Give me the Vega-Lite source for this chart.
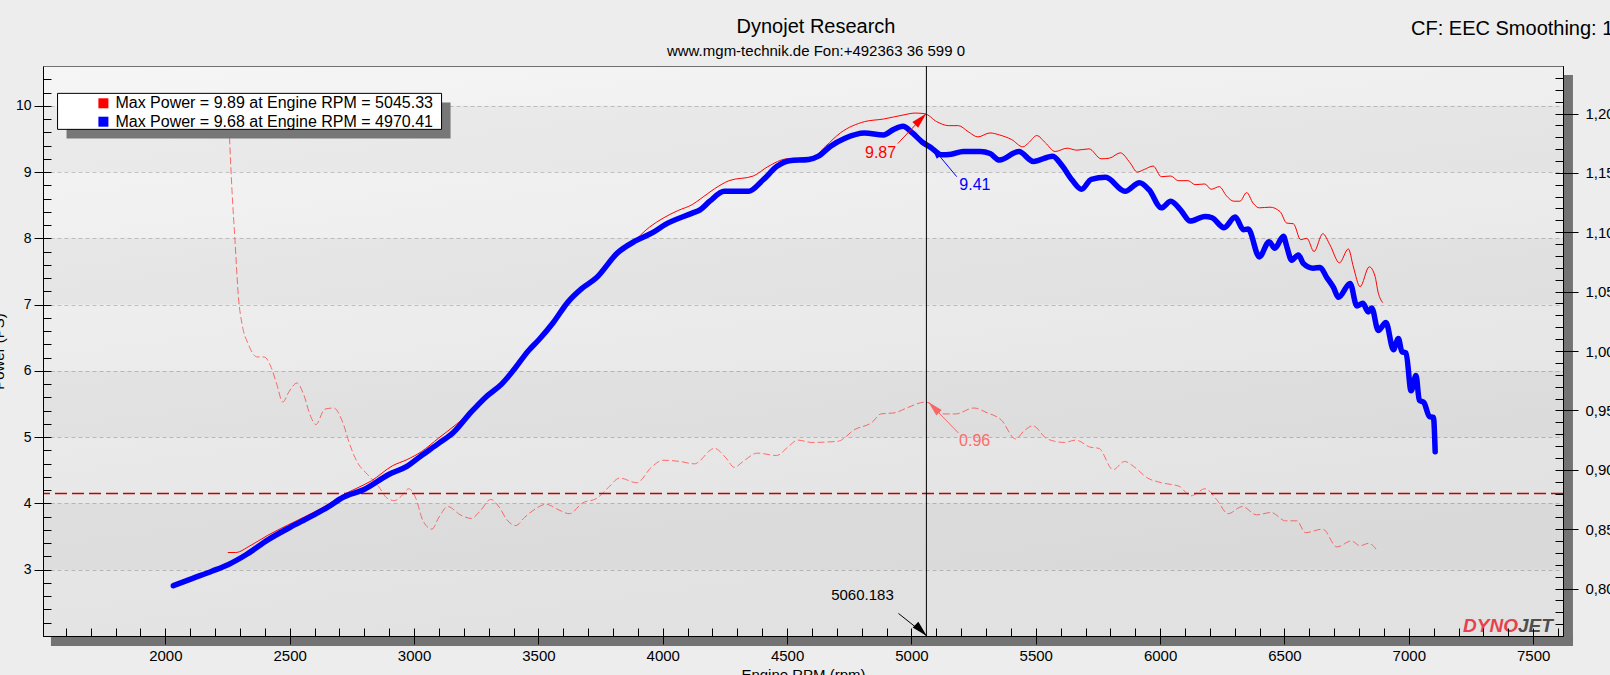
{
  "$schema": "https://vega.github.io/schema/vega-lite/v6.json",
  "width": 1520,
  "height": 570,
  "autosize": {"type": "none"},
  "padding": {"left": 43, "top": 66, "right": 47, "bottom": 39},
  "background": "#ededed",
  "title": {
    "text": "Dynojet Research",
    "subtitle": "www.mgm-technik.de Fon:+492363 36 599 0",
    "anchor": "middle",
    "frame": "group",
    "dx": 13,
    "offset": -40,
    "font": "Liberation Sans",
    "fontSize": 20,
    "fontWeight": "normal",
    "color": "#000000",
    "subtitleFont": "Liberation Sans",
    "subtitleFontSize": 15,
    "subtitleColor": "#000000",
    "subtitlePadding": 7
  },
  "datasets": {
    "run1": [
      {"rpm":2251,"power":3.26},{"rpm":2283,"power":3.26},{"rpm":2340,"power":3.36},{"rpm":2412,"power":3.52},{"rpm":2512,"power":3.71},{"rpm":2598,"power":3.87},{"rpm":2656,"power":3.99},{"rpm":2720,"power":4.14},{"rpm":2770,"power":4.23},{"rpm":2828,"power":4.34},{"rpm":2914,"power":4.57},{"rpm":2971,"power":4.66},{"rpm":3029,"power":4.78},{"rpm":3100,"power":4.99},{"rpm":3172,"power":5.2},{"rpm":3215,"power":5.34},{"rpm":3287,"power":5.62},{"rpm":3352,"power":5.82},{"rpm":3402,"power":6.04},{"rpm":3459,"power":6.32},{"rpm":3502,"power":6.49},{"rpm":3560,"power":6.75},{"rpm":3617,"power":7.05},{"rpm":3674,"power":7.26},{"rpm":3732,"power":7.42},{"rpm":3818,"power":7.8},{"rpm":3875,"power":7.93},{"rpm":3947,"power":8.17},{"rpm":4004,"power":8.31},{"rpm":4062,"power":8.42},{"rpm":4119,"power":8.51},{"rpm":4150,"power":8.59},{"rpm":4209,"power":8.75},{"rpm":4267,"power":8.87},{"rpm":4364,"power":8.94},{"rpm":4422,"power":9.08},{"rpm":4500,"power":9.2},{"rpm":4597,"power":9.21},{"rpm":4655,"power":9.39},{"rpm":4714,"power":9.59},{"rpm":4811,"power":9.76},{"rpm":4888,"power":9.8},{"rpm":4966,"power":9.86},{"rpm":5015,"power":9.89},{"rpm":5054,"power":9.88},{"rpm":5102,"power":9.76},{"rpm":5150,"power":9.7},{"rpm":5189,"power":9.7},{"rpm":5228,"power":9.61},{"rpm":5267,"power":9.53},{"rpm":5316,"power":9.59},{"rpm":5354,"power":9.56},{"rpm":5403,"power":9.49},{"rpm":5448,"power":9.38},{"rpm":5471,"power":9.44},{"rpm":5504,"power":9.55},{"rpm":5539,"power":9.44},{"rpm":5578,"power":9.31},{"rpm":5626,"power":9.36},{"rpm":5665,"power":9.33},{"rpm":5714,"power":9.35},{"rpm":5763,"power":9.2},{"rpm":5797,"power":9.21},{"rpm":5840,"power":9.29},{"rpm":5879,"power":9.14},{"rpm":5908,"power":9.0},{"rpm":5937,"power":9.04},{"rpm":5972,"power":9.09},{"rpm":6005,"power":8.93},{"rpm":6043,"power":8.94},{"rpm":6073,"power":8.87},{"rpm":6112,"power":8.87},{"rpm":6141,"power":8.81},{"rpm":6180,"power":8.82},{"rpm":6205,"power":8.74},{"rpm":6238,"power":8.78},{"rpm":6267,"power":8.64},{"rpm":6296,"power":8.56},{"rpm":6321,"power":8.56},{"rpm":6348,"power":8.69},{"rpm":6374,"power":8.53},{"rpm":6399,"power":8.46},{"rpm":6442,"power":8.47},{"rpm":6483,"power":8.4},{"rpm":6509,"power":8.23},{"rpm":6536,"power":8.22},{"rpm":6565,"power":7.98},{"rpm":6590,"power":8.0},{"rpm":6619,"power":7.8},{"rpm":6654,"power":8.07},{"rpm":6683,"power":7.9},{"rpm":6721,"power":7.63},{"rpm":6757,"power":7.84},{"rpm":6777,"power":7.57},{"rpm":6804,"power":7.27},{"rpm":6841,"power":7.57},{"rpm":6864,"power":7.43},{"rpm":6877,"power":7.18},{"rpm":6895,"power":7.03}
    ],
    "run2": [
      {"rpm":2032,"power":2.76},{"rpm":2110,"power":2.87},{"rpm":2189,"power":2.98},{"rpm":2254,"power":3.08},{"rpm":2326,"power":3.23},{"rpm":2412,"power":3.45},{"rpm":2502,"power":3.64},{"rpm":2584,"power":3.8},{"rpm":2656,"power":3.95},{"rpm":2713,"power":4.09},{"rpm":2799,"power":4.21},{"rpm":2900,"power":4.44},{"rpm":2971,"power":4.56},{"rpm":3029,"power":4.72},{"rpm":3100,"power":4.91},{"rpm":3158,"power":5.07},{"rpm":3230,"power":5.38},{"rpm":3287,"power":5.6},{"rpm":3352,"power":5.8},{"rpm":3402,"power":6.02},{"rpm":3459,"power":6.3},{"rpm":3502,"power":6.47},{"rpm":3560,"power":6.73},{"rpm":3617,"power":7.03},{"rpm":3674,"power":7.24},{"rpm":3732,"power":7.4},{"rpm":3818,"power":7.78},{"rpm":3890,"power":7.96},{"rpm":3961,"power":8.09},{"rpm":4011,"power":8.21},{"rpm":4119,"power":8.38},{"rpm":4150,"power":8.43},{"rpm":4189,"power":8.56},{"rpm":4248,"power":8.71},{"rpm":4345,"power":8.71},{"rpm":4403,"power":8.88},{"rpm":4461,"power":9.09},{"rpm":4510,"power":9.17},{"rpm":4587,"power":9.19},{"rpm":4626,"power":9.24},{"rpm":4675,"power":9.39},{"rpm":4733,"power":9.51},{"rpm":4811,"power":9.59},{"rpm":4888,"power":9.56},{"rpm":4927,"power":9.64},{"rpm":4966,"power":9.69},{"rpm":5004,"power":9.59},{"rpm":5044,"power":9.45},{"rpm":5082,"power":9.36},{"rpm":5121,"power":9.26},{"rpm":5160,"power":9.27},{"rpm":5209,"power":9.31},{"rpm":5277,"power":9.31},{"rpm":5316,"power":9.28},{"rpm":5354,"power":9.18},{"rpm":5432,"power":9.31},{"rpm":5490,"power":9.16},{"rpm":5568,"power":9.24},{"rpm":5607,"power":9.09},{"rpm":5646,"power":8.88},{"rpm":5684,"power":8.74},{"rpm":5723,"power":8.89},{"rpm":5781,"power":8.92},{"rpm":5859,"power":8.71},{"rpm":5917,"power":8.84},{"rpm":5956,"power":8.73},{"rpm":6005,"power":8.46},{"rpm":6043,"power":8.56},{"rpm":6082,"power":8.43},{"rpm":6121,"power":8.26},{"rpm":6180,"power":8.33},{"rpm":6209,"power":8.31},{"rpm":6257,"power":8.16},{"rpm":6302,"power":8.32},{"rpm":6335,"power":8.13},{"rpm":6354,"power":8.14},{"rpm":6399,"power":7.72},{"rpm":6438,"power":7.95},{"rpm":6461,"power":7.85},{"rpm":6496,"power":8.03},{"rpm":6509,"power":7.88},{"rpm":6529,"power":7.67},{"rpm":6556,"power":7.75},{"rpm":6576,"power":7.62},{"rpm":6616,"power":7.55},{"rpm":6643,"power":7.56},{"rpm":6670,"power":7.41},{"rpm":6697,"power":7.26},{"rpm":6717,"power":7.11},{"rpm":6764,"power":7.32},{"rpm":6791,"power":6.98},{"rpm":6815,"power":7.02},{"rpm":6837,"power":6.89},{"rpm":6851,"power":6.95},{"rpm":6877,"power":6.61},{"rpm":6908,"power":6.73},{"rpm":6938,"power":6.32},{"rpm":6958,"power":6.49},{"rpm":6972,"power":6.29},{"rpm":6989,"power":6.27},{"rpm":7009,"power":5.7},{"rpm":7029,"power":5.93},{"rpm":7042,"power":5.56},{"rpm":7061,"power":5.52},{"rpm":7083,"power":5.31},{"rpm":7099,"power":5.3},{"rpm":7106,"power":4.78}
    ],
    "afr": [
      {"rpm":2258,"lambda":1.18},{"rpm":2268,"lambda":1.135},{"rpm":2280,"lambda":1.093},{"rpm":2294,"lambda":1.045},{"rpm":2308,"lambda":1.023},{"rpm":2333,"lambda":1.006},{"rpm":2369,"lambda":0.995},{"rpm":2397,"lambda":0.995},{"rpm":2426,"lambda":0.986},{"rpm":2448,"lambda":0.972},{"rpm":2472,"lambda":0.957},{"rpm":2498,"lambda":0.966},{"rpm":2529,"lambda":0.973},{"rpm":2555,"lambda":0.964},{"rpm":2584,"lambda":0.945},{"rpm":2605,"lambda":0.938},{"rpm":2641,"lambda":0.951},{"rpm":2677,"lambda":0.952},{"rpm":2713,"lambda":0.94},{"rpm":2742,"lambda":0.921},{"rpm":2770,"lambda":0.907},{"rpm":2813,"lambda":0.896},{"rpm":2857,"lambda":0.886},{"rpm":2892,"lambda":0.876},{"rpm":2921,"lambda":0.874},{"rpm":2950,"lambda":0.878},{"rpm":2979,"lambda":0.884},{"rpm":3007,"lambda":0.876},{"rpm":3036,"lambda":0.857},{"rpm":3072,"lambda":0.85},{"rpm":3100,"lambda":0.86},{"rpm":3136,"lambda":0.869},{"rpm":3186,"lambda":0.862},{"rpm":3230,"lambda":0.859},{"rpm":3265,"lambda":0.865},{"rpm":3308,"lambda":0.875},{"rpm":3344,"lambda":0.868},{"rpm":3373,"lambda":0.858},{"rpm":3409,"lambda":0.853},{"rpm":3445,"lambda":0.86},{"rpm":3488,"lambda":0.867},{"rpm":3531,"lambda":0.871},{"rpm":3574,"lambda":0.867},{"rpm":3625,"lambda":0.863},{"rpm":3677,"lambda":0.872},{"rpm":3735,"lambda":0.876},{"rpm":3781,"lambda":0.885},{"rpm":3827,"lambda":0.893},{"rpm":3896,"lambda":0.889},{"rpm":3954,"lambda":0.902},{"rpm":4000,"lambda":0.908},{"rpm":4069,"lambda":0.907},{"rpm":4127,"lambda":0.905},{"rpm":4208,"lambda":0.918},{"rpm":4254,"lambda":0.91},{"rpm":4288,"lambda":0.902},{"rpm":4323,"lambda":0.907},{"rpm":4381,"lambda":0.914},{"rpm":4457,"lambda":0.912},{"rpm":4508,"lambda":0.92},{"rpm":4542,"lambda":0.925},{"rpm":4600,"lambda":0.923},{"rpm":4704,"lambda":0.924},{"rpm":4773,"lambda":0.934},{"rpm":4842,"lambda":0.94},{"rpm":4877,"lambda":0.947},{"rpm":4934,"lambda":0.948},{"rpm":4981,"lambda":0.952},{"rpm":5057,"lambda":0.957},{"rpm":5131,"lambda":0.947},{"rpm":5177,"lambda":0.947},{"rpm":5251,"lambda":0.952},{"rpm":5304,"lambda":0.948},{"rpm":5361,"lambda":0.942},{"rpm":5419,"lambda":0.926},{"rpm":5454,"lambda":0.933},{"rpm":5488,"lambda":0.937},{"rpm":5546,"lambda":0.926},{"rpm":5615,"lambda":0.923},{"rpm":5661,"lambda":0.925},{"rpm":5719,"lambda":0.919},{"rpm":5754,"lambda":0.918},{"rpm":5811,"lambda":0.9},{"rpm":5857,"lambda":0.907},{"rpm":5892,"lambda":0.903},{"rpm":5950,"lambda":0.893},{"rpm":6007,"lambda":0.889},{"rpm":6077,"lambda":0.886},{"rpm":6123,"lambda":0.878},{"rpm":6181,"lambda":0.884},{"rpm":6227,"lambda":0.875},{"rpm":6273,"lambda":0.863},{"rpm":6331,"lambda":0.869},{"rpm":6388,"lambda":0.862},{"rpm":6446,"lambda":0.864},{"rpm":6504,"lambda":0.857},{"rpm":6550,"lambda":0.857},{"rpm":6584,"lambda":0.847},{"rpm":6654,"lambda":0.85},{"rpm":6711,"lambda":0.835},{"rpm":6769,"lambda":0.84},{"rpm":6804,"lambda":0.836},{"rpm":6838,"lambda":0.838},{"rpm":6873,"lambda":0.832}
    ],
    "bands": [
      {"lo":9,"hi":10},{"lo":7,"hi":8},{"lo":5,"hi":6},{"lo":3,"hi":4}
    ],
    "runs": [
      {"run":"Max Power = 9.89 at Engine RPM = 5045.33"},
      {"run":"Max Power = 9.68 at Engine RPM = 4970.41"}
    ],
    "one": [{}]
  },
  "resolve": {"scale": {"y": "independent"}, "axis": {"x": "independent", "y": "independent"}},
  "layer": [
    {
      "resolve": {"axis": {"x": "independent", "y": "independent"}},
      "layer": [
        {
          "data": {"name": "one"},
          "mark": {"type": "rect", "opacity": 0.45, "color": {"gradient": "linear", "x1": 0, "y1": 0, "x2": 0.35, "y2": 1, "stops": [{"offset": 0, "color": "#ffffff"}, {"offset": 1, "color": "#d2d2d2"}]}},
          "encoding": {}
        },
        {
          "data": {"name": "afr"},
          "mark": {"type": "line", "color": "#ff6b6b", "strokeWidth": 1, "strokeDash": [7, 3], "interpolate": "monotone"},
          "encoding": {
            "x": {"field": "rpm", "type": "quantitative", "scale": {"domain": [1508, 7620], "nice": false, "zero": false},
              "axis": {
                "orient": "bottom",
                "values": [1600,1700,1800,1900,2000,2100,2200,2300,2400,2500,2600,2700,2800,2900,3000,3100,3200,3300,3400,3500,3600,3700,3800,3900,4000,4100,4200,4300,4400,4500,4600,4700,4800,4900,5000,5100,5200,5300,5400,5500,5600,5700,5800,5900,6000,6100,6200,6300,6400,6500,6600,6700,6800,6900,7000,7100,7200,7300,7400,7500,7600],
                "format": "d",
                "labelExpr": "datum.value % 500 === 0 ? datum.label : ''",
                "grid": false,
                "tickSize": -8,
                "labelFontSize": 15,
                "labelPadding": 20,
                "labelFlush": false,
                "labelOverlap": false,
                "title": "Engine RPM (rpm)",
                "titleFontSize": 15,
                "titleY": 31,
                "titleBaseline": "top",
                "zindex": 1
              }
            },
            "y": {"field": "lambda", "type": "quantitative", "scale": {"domain": [0.76, 1.24], "nice": false, "zero": false},
              "axis": {
                "orient": "right",
                "values": [0.77,0.78,0.79,0.8,0.81,0.82,0.83,0.84,0.85,0.86,0.87,0.88,0.89,0.9,0.91,0.92,0.93,0.94,0.95,0.96,0.97,0.98,0.99,1,1.01,1.02,1.03,1.04,1.05,1.06,1.07,1.08,1.09,1.1,1.11,1.12,1.13,1.14,1.15,1.16,1.17,1.18,1.19,1.2,1.21,1.22,1.23],
                "labelExpr": "abs(datum.value*20 - round(datum.value*20)) < 0.001 ? replace(format(datum.value, '.2f'), '.', ',') : ''",
                "grid": false,
                "tickSize": -8,
                "labelFontSize": 15,
                "labelPadding": 30,
                "labelOverlap": false,
                "labelFlush": false,
                "title": null,
                "zindex": 1
              }
            }
          }
        },
        {
          "data": {"name": "one"},
          "mark": {"type": "rule", "color": "#c40000", "strokeWidth": 1.3, "strokeDash": [12, 5]},
          "encoding": {
            "y": {"datum": 0.88, "type": "quantitative", "scale": {"domain": [0.76, 1.24], "nice": false, "zero": false},
              "axis": {
                "orient": "right",
                "values": [0.8,0.85,0.9,0.95,1,1.05,1.1,1.15,1.2],
                "tickSize": 15,
                "labels": false,
                "domain": false,
                "grid": false,
                "title": null,
                "zindex": 1
              }
            }
          }
        },
        {
          "data": {"name": "one"},
          "mark": {"type": "rule", "color": "#ff6b6b", "strokeWidth": 1},
          "encoding": {
            "x": {"datum": 5189, "type": "quantitative", "scale": {"domain": [1508, 7620], "nice": false, "zero": false},
              "axis": {
                "orient": "bottom",
                "values": [2000,2500,3000,3500,4000,4500,5000,5500,6000,6500,7000,7500],
                "tickSize": 8,
                "labels": false,
                "domain": false,
                "grid": false,
                "title": null,
                "zindex": 1
              }
            },
            "x2": {"datum": 5068},
            "y": {"datum": 0.931, "type": "quantitative", "scale": {"domain": [0.76, 1.24], "nice": false, "zero": false}, "axis": null},
            "y2": {"datum": 0.957}
          }
        },
        {
          "data": {"name": "one"},
          "mark": {"type": "point", "shape": "M0,0L-0.5,2L0.5,2Z", "filled": true, "size": 230, "angle": 315, "color": "#ff6b6b", "opacity": 1, "strokeWidth": 0},
          "encoding": {
            "x": {"datum": 5068, "type": "quantitative", "scale": {"domain": [1508, 7620], "nice": false, "zero": false}, "axis": null},
            "y": {"datum": 0.957, "type": "quantitative", "scale": {"domain": [0.76, 1.24], "nice": false, "zero": false}, "axis": null}
          }
        },
        {
          "data": {"name": "one"},
          "mark": {"type": "text", "text": "0.96", "color": "#ff6b6b", "font": "Liberation Sans", "fontSize": 16, "align": "center", "baseline": "middle"},
          "encoding": {
            "x": {"datum": 5254, "type": "quantitative", "scale": {"domain": [1508, 7620], "nice": false, "zero": false}, "axis": null},
            "y": {"datum": 0.924, "type": "quantitative", "scale": {"domain": [0.76, 1.24], "nice": false, "zero": false}, "axis": null}
          }
        }
      ]
    },
    {
      "resolve": {"axis": {"y": "independent"}},
      "layer": [
        {
          "data": {"name": "runs"},
          "mark": {"type": "square", "opacity": 0, "size": 100},
          "encoding": {
            "color": {"field": "run", "type": "nominal",
              "scale": {"domain": ["Max Power = 9.89 at Engine RPM = 5045.33", "Max Power = 9.68 at Engine RPM = 4970.41"], "range": ["#ff0000", "#0000ff"]},
              "legend": {
                "title": null,
                "orient": "none",
                "legendX": 52.4,
                "legendY": 29.3,
                "symbolType": "square",
                "symbolSize": 100,
                "symbolStrokeWidth": 0,
                "symbolOpacity": 1,
                "labelFont": "Liberation Sans",
                "labelFontSize": 16,
                "labelColor": "#000000",
                "labelOffset": 4,
                "labelLimit": 500,
                "rowPadding": 2.4,
                "padding": 0,
                "symbolOffset": 0
              }
            }
          }
        },
        {
          "data": {"name": "bands"},
          "mark": {"type": "rect", "color": "#000000", "opacity": 0.035},
          "encoding": {
            "y": {"field": "lo", "type": "quantitative", "scale": {"domain": [2, 10.6], "nice": false, "zero": false},
              "axis": {
                "orient": "left",
                "values": [3,4,5,6,7,8,9,10],
                "grid": true,
                "ticks": false,
                "labels": false,
                "domain": false,
                "title": null,
                "zindex": 0
              }
            },
            "y2": {"field": "hi"}
          }
        },
        {
          "data": {"name": "run1"},
          "mark": {"type": "line", "color": "#ff0000", "strokeWidth": 1, "interpolate": "monotone"},
          "encoding": {
            "x": {"field": "rpm", "type": "quantitative", "scale": {"domain": [1508, 7620], "nice": false, "zero": false},
              "axis": {
                "orient": "bottom",
                "values": [2000,2500,3000,3500,4000,4500,5000,5500,6000,6500,7000,7500],
                "grid": true,
                "ticks": false,
                "labels": false,
                "domain": false,
                "title": null,
                "zindex": 0
              }
            },
            "y": {"field": "power", "type": "quantitative", "scale": {"domain": [2, 10.6], "nice": false, "zero": false},
              "axis": {
                "orient": "left",
                "values": [2.2,2.4,2.6,2.8,3,3.2,3.4,3.6,3.8,4,4.2,4.4,4.6,4.8,5,5.2,5.4,5.6,5.8,6,6.2,6.4,6.6,6.8,7,7.2,7.4,7.6,7.8,8,8.2,8.4,8.6,8.8,9,9.2,9.4,9.6,9.8,10,10.2,10.4],
                "format": ".0f",
                "labelExpr": "abs(datum.value - round(datum.value)) < 0.001 ? datum.label : ''",
                "grid": false,
                "tickSize": -8,
                "labelFontSize": 14,
                "labelPadding": 20,
                "labelOverlap": false,
                "labelFlush": false,
                "title": "Power (PS)",
                "titleFontSize": 15,
                "titleX": -40,
                "titleBaseline": "alphabetic",
                "zindex": 1
              }
            }
          }
        },
        {
          "data": {"name": "run2"},
          "mark": {"type": "line", "color": "#0000ff", "strokeWidth": 5.5, "interpolate": "monotone", "strokeCap": "round", "strokeJoin": "round"},
          "encoding": {
            "x": {"field": "rpm", "type": "quantitative", "scale": {"domain": [1508, 7620], "nice": false, "zero": false}, "axis": null},
            "y": {"field": "power", "type": "quantitative", "scale": {"domain": [2, 10.6], "nice": false, "zero": false},
              "axis": {
                "orient": "left",
                "values": [3,4,5,6,7,8,9,10],
                "tickSize": 9,
                "labels": false,
                "domain": false,
                "grid": false,
                "title": null,
                "zindex": 1
              }
            }
          }
        },
        {
          "data": {"name": "one"},
          "mark": {"type": "rect", "color": "#737373"},
          "encoding": {
            "x": {"datum": 7620, "type": "quantitative", "scale": {"domain": [1508, 7620], "nice": false, "zero": false}, "axis": null},
            "x2": {"datum": 7660},
            "y": {"datum": 10.464, "type": "quantitative", "scale": {"domain": [2, 10.6], "nice": false, "zero": false}, "axis": null},
            "y2": {"datum": 1.849}
          }
        },
        {
          "data": {"name": "one"},
          "mark": {"type": "rect", "color": "#737373"},
          "encoding": {
            "x": {"datum": 1540, "type": "quantitative", "scale": {"domain": [1508, 7620], "nice": false, "zero": false}, "axis": null},
            "x2": {"datum": 7660},
            "y": {"datum": 2.0, "type": "quantitative", "scale": {"domain": [2, 10.6], "nice": false, "zero": false}, "axis": null},
            "y2": {"datum": 1.849}
          }
        },
        {
          "data": {"name": "one"},
          "mark": {"type": "rect", "color": "#777777"},
          "encoding": {
            "x": {"datum": 1602.7, "type": "quantitative", "scale": {"domain": [1508, 7620], "nice": false, "zero": false}, "axis": null},
            "x2": {"datum": 3146.8},
            "y": {"datum": 9.508, "type": "quantitative", "scale": {"domain": [2, 10.6], "nice": false, "zero": false}, "axis": null},
            "y2": {"datum": 10.051}
          }
        },
        {
          "data": {"name": "one"},
          "mark": {"type": "rect", "fill": "#ffffff", "stroke": "#000000", "strokeWidth": 1},
          "encoding": {
            "x": {"datum": 1566.5, "type": "quantitative", "scale": {"domain": [1508, 7620], "nice": false, "zero": false}, "axis": null},
            "x2": {"datum": 3110.6},
            "y": {"datum": 9.644, "type": "quantitative", "scale": {"domain": [2, 10.6], "nice": false, "zero": false}, "axis": null},
            "y2": {"datum": 10.187}
          }
        },
        {
          "data": {"name": "one"},
          "mark": {"type": "rule", "color": "#000000", "strokeWidth": 1},
          "encoding": {
            "x": {"datum": 5060.183, "type": "quantitative", "scale": {"domain": [1508, 7620], "nice": false, "zero": false}, "axis": null}
          }
        },
        {
          "data": {"name": "one"},
          "mark": {"type": "rule", "color": "#ff0000", "strokeWidth": 1},
          "encoding": {
            "x": {"datum": 4945, "type": "quantitative", "scale": {"domain": [1508, 7620], "nice": false, "zero": false}, "axis": null},
            "x2": {"datum": 5060},
            "y": {"datum": 9.43, "type": "quantitative", "scale": {"domain": [2, 10.6], "nice": false, "zero": false}, "axis": null},
            "y2": {"datum": 9.885}
          }
        },
        {
          "data": {"name": "one"},
          "mark": {"type": "point", "shape": "M0,0L-0.5,2L0.5,2Z", "filled": true, "size": 256, "angle": 44, "color": "#ff0000", "opacity": 1, "strokeWidth": 0},
          "encoding": {
            "x": {"datum": 5060, "type": "quantitative", "scale": {"domain": [1508, 7620], "nice": false, "zero": false}, "axis": null},
            "y": {"datum": 9.885, "type": "quantitative", "scale": {"domain": [2, 10.6], "nice": false, "zero": false}, "axis": null}
          }
        },
        {
          "data": {"name": "one"},
          "mark": {"type": "text", "text": "9.87", "color": "#ff0000", "font": "Liberation Sans", "fontSize": 16, "align": "center", "baseline": "middle"},
          "encoding": {
            "x": {"datum": 4876, "type": "quantitative", "scale": {"domain": [1508, 7620], "nice": false, "zero": false}, "axis": null},
            "y": {"datum": 9.28, "type": "quantitative", "scale": {"domain": [2, 10.6], "nice": false, "zero": false}, "axis": null}
          }
        },
        {
          "data": {"name": "one"},
          "mark": {"type": "rule", "color": "#0000ff", "strokeWidth": 1},
          "encoding": {
            "x": {"datum": 5182, "type": "quantitative", "scale": {"domain": [1508, 7620], "nice": false, "zero": false}, "axis": null},
            "x2": {"datum": 5078},
            "y": {"datum": 8.93, "type": "quantitative", "scale": {"domain": [2, 10.6], "nice": false, "zero": false}, "axis": null},
            "y2": {"datum": 9.4}
          }
        },
        {
          "data": {"name": "one"},
          "mark": {"type": "point", "shape": "M0,0L-0.5,2L0.5,2Z", "filled": true, "size": 200, "angle": 322, "color": "#0000ff", "opacity": 1, "strokeWidth": 0},
          "encoding": {
            "x": {"datum": 5078, "type": "quantitative", "scale": {"domain": [1508, 7620], "nice": false, "zero": false}, "axis": null},
            "y": {"datum": 9.4, "type": "quantitative", "scale": {"domain": [2, 10.6], "nice": false, "zero": false}, "axis": null}
          }
        },
        {
          "data": {"name": "one"},
          "mark": {"type": "text", "text": "9.41", "color": "#0000ff", "font": "Liberation Sans", "fontSize": 16, "align": "center", "baseline": "middle"},
          "encoding": {
            "x": {"datum": 5255, "type": "quantitative", "scale": {"domain": [1508, 7620], "nice": false, "zero": false}, "axis": null},
            "y": {"datum": 8.81, "type": "quantitative", "scale": {"domain": [2, 10.6], "nice": false, "zero": false}, "axis": null}
          }
        },
        {
          "data": {"name": "one"},
          "mark": {"type": "rule", "color": "#000000", "strokeWidth": 1},
          "encoding": {
            "x": {"datum": 4948, "type": "quantitative", "scale": {"domain": [1508, 7620], "nice": false, "zero": false}, "axis": null},
            "x2": {"datum": 5062},
            "y": {"datum": 2.34, "type": "quantitative", "scale": {"domain": [2, 10.6], "nice": false, "zero": false}, "axis": null},
            "y2": {"datum": 2.0}
          }
        },
        {
          "data": {"name": "one"},
          "mark": {"type": "point", "shape": "M0,0L-0.5,2L0.5,2Z", "filled": true, "size": 256, "angle": 135, "color": "#000000", "opacity": 1, "strokeWidth": 0},
          "encoding": {
            "x": {"datum": 5062, "type": "quantitative", "scale": {"domain": [1508, 7620], "nice": false, "zero": false}, "axis": null},
            "y": {"datum": 2.0, "type": "quantitative", "scale": {"domain": [2, 10.6], "nice": false, "zero": false}, "axis": null}
          }
        },
        {
          "data": {"name": "one"},
          "mark": {"type": "text", "text": "5060.183", "color": "#000000", "font": "Liberation Sans", "fontSize": 15, "align": "center", "baseline": "middle"},
          "encoding": {
            "x": {"datum": 4803, "type": "quantitative", "scale": {"domain": [1508, 7620], "nice": false, "zero": false}, "axis": null},
            "y": {"datum": 2.615, "type": "quantitative", "scale": {"domain": [2, 10.6], "nice": false, "zero": false}, "axis": null}
          }
        },
        {
          "data": {"name": "one"},
          "mark": {"type": "text", "text": "DYNO", "color": "#e8414c", "font": "Liberation Sans", "fontSize": 19, "fontWeight": "bold", "fontStyle": "italic", "align": "left", "baseline": "alphabetic"},
          "encoding": {
            "x": {"datum": 7218, "type": "quantitative", "scale": {"domain": [1508, 7620], "nice": false, "zero": false}, "axis": null},
            "y": {"datum": 2.063, "type": "quantitative", "scale": {"domain": [2, 10.6], "nice": false, "zero": false}, "axis": null}
          }
        },
        {
          "data": {"name": "one"},
          "mark": {"type": "text", "text": "JET", "color": "#4d4d4d", "font": "Liberation Sans", "fontSize": 19, "fontWeight": "bold", "fontStyle": "italic", "align": "left", "baseline": "alphabetic"},
          "encoding": {
            "x": {"datum": 7439, "type": "quantitative", "scale": {"domain": [1508, 7620], "nice": false, "zero": false}, "axis": null},
            "y": {"datum": 2.063, "type": "quantitative", "scale": {"domain": [2, 10.6], "nice": false, "zero": false}, "axis": null}
          }
        },
        {
          "data": {"name": "one"},
          "mark": {"type": "text", "text": "CF: EEC Smoothing: 1", "color": "#000000", "font": "Liberation Sans", "fontSize": 20, "align": "left", "baseline": "middle"},
          "encoding": {
            "x": {"datum": 7009, "type": "quantitative", "scale": {"domain": [1508, 7620], "nice": false, "zero": false}, "axis": null},
            "y": {"datum": 11.16, "type": "quantitative", "scale": {"domain": [2, 10.6], "nice": false, "zero": false}, "axis": null}
          }
        }
      ]
    }
  ],
  "config": {
    "font": "Liberation Sans",
    "view": {"stroke": "#000000", "strokeWidth": 1, "fill": "#eeeeee"},
    "axis": {
      "domainColor": "#000000",
      "domainWidth": 1,
      "tickColor": "#000000",
      "tickWidth": 1,
      "labelColor": "#000000",
      "titleColor": "#000000",
      "labelFont": "Liberation Sans",
      "titleFont": "Liberation Sans",
      "titleFontWeight": "normal",
      "gridColor": "#999999",
      "gridDash": [4, 3],
      "gridWidth": 1
    }
  }
}
